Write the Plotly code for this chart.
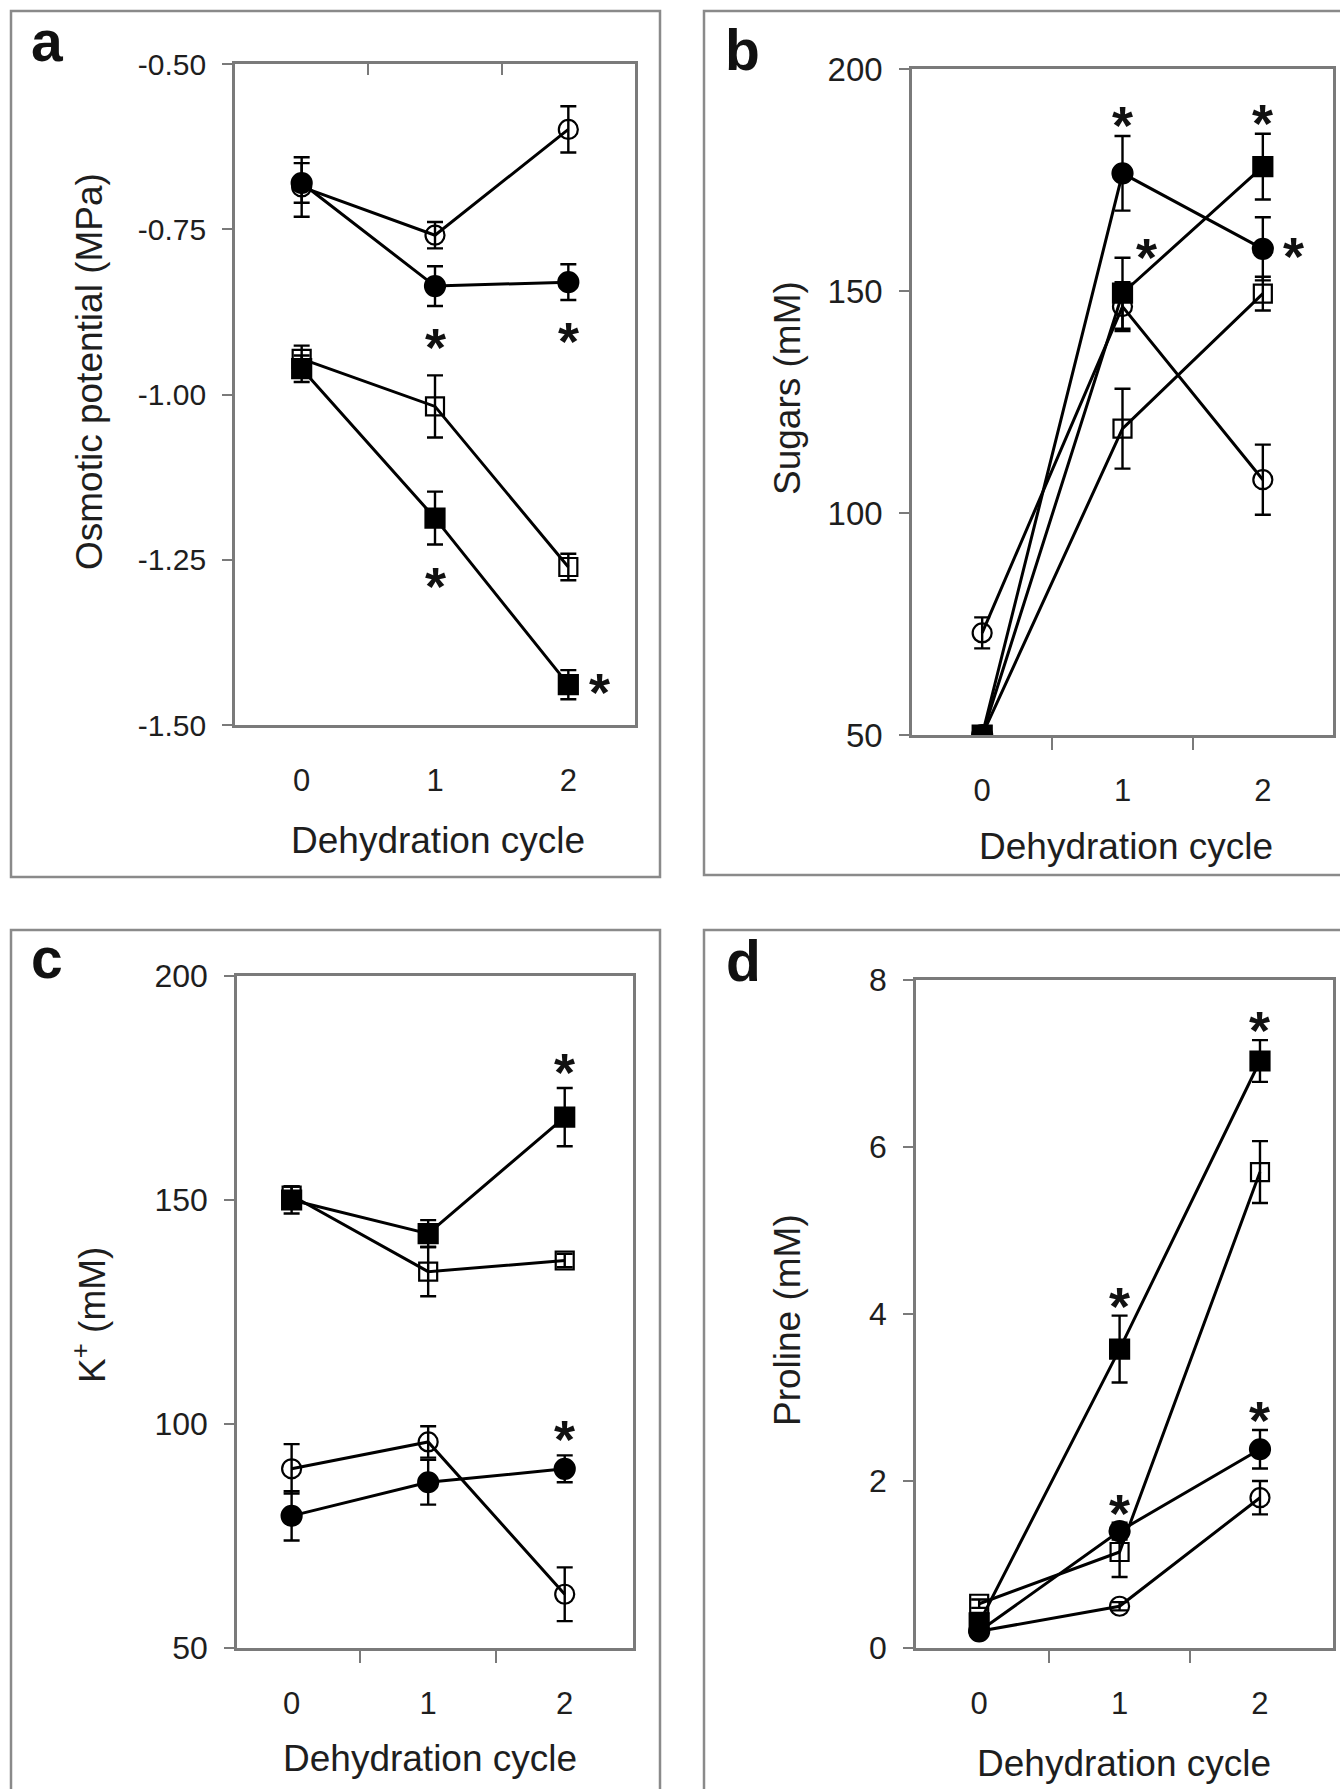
import plotly.graph_objects as go

W, H = 1340, 1789

# ---------------- data ----------------
cycles = [0, 1, 2]
x_tick_labels = ["0", "1", "2"]
x_title = "Dehydration cycle"

# Panel a: osmotic potential (MPa)
osm_open_circle = [-0.686, -0.759, -0.599]
osm_open_circle_err = [0.045, 0.020, 0.035]
osm_filled_circle = [-0.680, -0.836, -0.830]
osm_filled_circle_err = [0.030, 0.030, 0.027]
osm_open_square = [-0.946, -1.018, -1.261]
osm_open_square_err = [0.020, 0.047, 0.020]
osm_filled_square = [-0.961, -1.187, -1.439]
osm_filled_square_err = [0.020, 0.040, 0.022]
osm_ticks = [-1.50, -1.25, -1.00, -0.75, -0.50]
osm_tick_labels = ["-1.50", "-1.25", "-1.00", "-0.75", "-0.50"]

# Panel b: sugars (mM)
sug_open_circle = [73.0, 146.5, 107.5]
sug_open_circle_err = [3.5, 5.5, 7.9]
sug_filled_circle = [50.0, 176.5, 159.5]
sug_filled_circle_err = [0.5, 8.4, 7.1]
sug_open_square = [50.0, 119.0, 149.4]
sug_open_square_err = [0.5, 9.0, 3.8]
sug_filled_square = [50.0, 149.5, 178.0]
sug_filled_square_err = [0.5, 8.0, 7.4]
sug_ticks = [50, 100, 150, 200]
sug_tick_labels = ["50", "100", "150", "200"]

# Panel c: K+ (mM)
k_open_circle = [90.0, 96.0, 62.0]
k_open_circle_err = [5.5, 3.5, 6.0]
k_filled_circle = [79.5, 87.0, 90.0]
k_filled_circle_err = [5.5, 5.0, 3.0]
k_open_square = [151.0, 134.0, 136.5]
k_open_square_err = [2.0, 5.5, 1.5]
k_filled_square = [150.0, 142.5, 168.5]
k_filled_square_err = [3.0, 3.0, 6.5]
k_ticks = [50, 100, 150, 200]
k_tick_labels = ["50", "100", "150", "200"]

# Panel d: proline (mM)
pro_open_circle = [0.20, 0.50, 1.80]
pro_open_circle_err = [0.03, 0.05, 0.20]
pro_filled_circle = [0.20, 1.40, 2.38]
pro_filled_circle_err = [0.05, 0.10, 0.23]
pro_open_square = [0.53, 1.15, 5.70]
pro_open_square_err = [0.05, 0.30, 0.37]
pro_filled_square = [0.30, 3.58, 7.03]
pro_filled_square_err = [0.05, 0.40, 0.25]
pro_ticks = [0, 2, 4, 6, 8]
pro_tick_labels = ["0", "2", "4", "6", "8"]

# significance stars: (series, cycle index, placement)
stars_a = [("filled_circle", 1, "below"), ("filled_circle", 2, "below"),
           ("filled_square", 1, "below"), ("filled_square", 2, "right")]
stars_b = [("filled_circle", 1, "above"), ("filled_square", 2, "above"),
           ("filled_square", 1, "upright"), ("filled_circle", 2, "right")]
stars_c = [("filled_square", 2, "above"), ("filled_circle", 2, "above")]
stars_d = [("filled_square", 1, "above"), ("filled_square", 2, "above"),
           ("filled_circle", 1, "above"), ("filled_circle", 2, "above")]

# ---------------- styling ----------------
FONT = "Liberation Sans, Arial, Helvetica, sans-serif"
TXT = "#1e1e1e"
FRAME = "#8a8a8a"
AXC = "#7a7a7a"

symbols = {"open_circle": "circle-open", "filled_circle": "circle",
           "open_square": "square-open", "filled_square": "square"}
msize = {"open_circle": 19, "filled_circle": 20, "open_square": 18, "filled_square": 19}

panels = [
    dict(letter="a", sfx="", frame=(11, 11, 660, 877), plot=(235, 64, 635, 725),
         xr=[-0.5, 2.5], yr=[-1.5, -0.5], ytitle="Osmotic potential (MPa)",
         yt=osm_ticks, ytl=osm_tick_labels, ytick_size=30, letter_pos=(29, 62),
         ytitle_pos=(89, 372), xtitle_pos=(438, 840), star_above=11,
         series={"open_circle": (osm_open_circle, osm_open_circle_err),
                 "filled_circle": (osm_filled_circle, osm_filled_circle_err),
                 "open_square": (osm_open_square, osm_open_square_err),
                 "filled_square": (osm_filled_square, osm_filled_square_err)},
         stars=stars_a, top_ticks=True),
    dict(letter="b", sfx="2", frame=(704, 11, 1346, 875), plot=(912, 69, 1333, 735),
         xr=[-0.5, 2.5], yr=[50, 200], ytitle="Sugars (mM)",
         yt=sug_ticks, ytl=sug_tick_labels, ytick_size=33, letter_pos=(723, 71),
         ytitle_pos=(787, 388), xtitle_pos=(1126, 846), star_above=11,
         series={"open_circle": (sug_open_circle, sug_open_circle_err),
                 "filled_circle": (sug_filled_circle, sug_filled_circle_err),
                 "open_square": (sug_open_square, sug_open_square_err),
                 "filled_square": (sug_filled_square, sug_filled_square_err)},
         stars=stars_b, top_ticks=False),
    dict(letter="c", sfx="3", frame=(11, 930, 660, 1800), plot=(237, 976, 633, 1648),
         xr=[-0.4, 2.5], yr=[50, 200], ytitle="K<sup>+</sup> (mM)",
         yt=k_ticks, ytl=k_tick_labels, ytick_size=32, letter_pos=(29, 979),
         ytitle_pos=(89, 1315), xtitle_pos=(430, 1758), star_above=16,
         series={"open_circle": (k_open_circle, k_open_circle_err),
                 "filled_circle": (k_filled_circle, k_filled_circle_err),
                 "open_square": (k_open_square, k_open_square_err),
                 "filled_square": (k_filled_square, k_filled_square_err)},
         stars=stars_c, top_ticks=False),
    dict(letter="d", sfx="4", frame=(704, 930, 1346, 1800), plot=(916, 980, 1333, 1648),
         xr=[-0.45, 2.52], yr=[0, 8], ytitle="Proline (mM)",
         yt=pro_ticks, ytl=pro_tick_labels, ytick_size=32, letter_pos=(724, 982),
         ytitle_pos=(787, 1320), xtitle_pos=(1124, 1763), star_above=10,
         series={"open_circle": (pro_open_circle, pro_open_circle_err),
                 "filled_circle": (pro_filled_circle, pro_filled_circle_err),
                 "open_square": (pro_open_square, pro_open_square_err),
                 "filled_square": (pro_filled_square, pro_filled_square_err)},
         stars=stars_d, top_ticks=False),
]

# star placement offsets in screen pixels (dx, dy up-positive)
star_offsets = {"below": (0, -41), "right": (31, -7), "upright": (24, 36)}

fig = go.Figure()
shapes, annotations = [], []
layout = dict(width=W, height=H, autosize=False,
              margin=dict(l=0, r=0, t=0, b=0, pad=0, autoexpand=False),
              paper_bgcolor="white", plot_bgcolor="white", showlegend=False,
              font=dict(family=FONT, color=TXT))

for p in panels:
    sfx = p["sfx"]
    xa, ya = "x" + sfx, "y" + sfx
    xl, yl = "xaxis" + sfx, "yaxis" + sfx
    L, T, R, B = p["plot"]
    for name in ["open_circle", "open_square", "filled_circle", "filled_square"]:
        vals, errs = p["series"][name]
        fig.add_trace(go.Scatter(
            x=cycles, y=vals, xaxis=xa, yaxis=ya, mode="lines+markers",
            line=dict(color="black", width=3),
            marker=dict(symbol=symbols[name], size=msize[name], color="black",
                        line=dict(color="black", width=2.2)),
            error_y=dict(type="data", array=errs, color="black", thickness=2.4, width=8),
            hoverinfo="skip"))
    layout[xl] = dict(domain=[L / W, R / W], range=p["xr"], anchor=ya, automargin=False,
                      tickvals=cycles, ticktext=x_tick_labels, ticks="",
                      tickfont=dict(size=31, family=FONT, color=TXT),
                      ticklabelstandoff=26,
                      showline=True, linecolor=AXC, linewidth=2.5, mirror=True,
                      showgrid=False, zeroline=False, fixedrange=True)
    if not p["top_ticks"]:
        layout[xl]["minor"] = dict(tickvals=[0.5, 1.5], ticks="outside", ticklen=12,
                                   tickcolor=AXC, tickwidth=2, showgrid=False)
    layout[yl] = dict(domain=[1 - B / H, 1 - T / H], range=p["yr"], anchor=xa,
                      automargin=False,
                      tickvals=p["yt"], ticktext=p["ytl"], ticks="outside", ticklen=10,
                      tickcolor=AXC, tickwidth=2,
                      tickfont=dict(size=p["ytick_size"], family=FONT, color=TXT),
                      ticklabelstandoff=10,
                      showline=True, linecolor=AXC, linewidth=2.5, mirror=True,
                      showgrid=False, zeroline=False, fixedrange=True)
    if p["top_ticks"]:
        # category axis of panel a crosses at the top edge, so its ticks sit there
        layout["xaxis5"] = dict(overlaying=xa, anchor=ya, side="top", range=p["xr"],
                                automargin=False,
                                tickvals=[0.5, 1.5], ticks="inside", ticklen=11,
                                tickcolor=AXC, tickwidth=2, showticklabels=False,
                                showline=False, showgrid=False, zeroline=False,
                                fixedrange=True)
        fig.add_trace(go.Scatter(x=[None], y=[None], xaxis="x5", yaxis=ya,
                                 mode="markers", hoverinfo="skip"))
    # axis titles
    tx, ty = p["xtitle_pos"]
    annotations.append(dict(text=x_title, xref="paper", yref="paper", x=tx / W,
                            y=1 - ty / H, xanchor="center", yanchor="middle",
                            showarrow=False, font=dict(size=37, family=FONT, color=TXT)))
    tx, ty = p["ytitle_pos"]
    annotations.append(dict(text=p["ytitle"], xref="paper", yref="paper", x=tx / W,
                            y=1 - ty / H, xanchor="center", yanchor="middle",
                            textangle=-90, showarrow=False,
                            font=dict(size=37, family=FONT, color=TXT)))
    # panel frame
    fl, ft, fr, fb = p["frame"]
    shapes.append(dict(type="rect", xref="paper", yref="paper",
                       x0=fl / W, x1=fr / W, y0=1 - fb / H, y1=1 - ft / H,
                       line=dict(color=FRAME, width=2.5), fillcolor="rgba(0,0,0,0)",
                       layer="below"))
    # panel letter
    lx, lbase = p["letter_pos"]
    annotations.append(dict(text="<b>%s</b>" % p["letter"], xref="paper", yref="paper",
                            x=lx / W, y=1 - (lbase + 13) / H, xanchor="left",
                            yanchor="bottom", showarrow=False,
                            font=dict(size=57, family=FONT, color="#111")))
    # significance stars
    for name, i, place in p["stars"]:
        vals, errs = p["series"][name]
        if place == "above":
            yv = vals[i] + errs[i]
            dx, dy = 0, p["star_above"]
        elif place == "below":
            yv = vals[i] - errs[i]
            dx, dy = star_offsets[place]
        else:
            yv = vals[i]
            dx, dy = star_offsets[place]
        annotations.append(dict(text="<b>*</b>", x=cycles[i], y=yv, xref=xa, yref=ya,
                                xshift=dx, yshift=dy, showarrow=False,
                                xanchor="center", yanchor="middle",
                                font=dict(size=54, family=FONT, color="#111")))

layout["shapes"] = shapes
layout["annotations"] = annotations
fig.update_layout(**layout)

# remove the default 8px body margin so the page is exactly the figure size
fig.write_html("out.html", post_script="document.body.style.margin='0';")
